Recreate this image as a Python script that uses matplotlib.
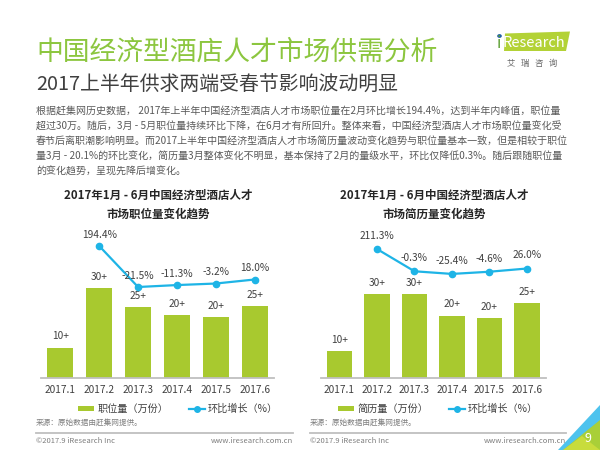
import matplotlib
matplotlib.use("Agg")
import matplotlib.pyplot as plt
from matplotlib.patches import Polygon, Patch
from matplotlib.lines import Line2D

plt.rcParams['font.family'] = ['Noto Sans CJK SC', 'DejaVu Sans']

# ---------------- data ----------------
months = ['2017.1', '2017.2', '2017.3', '2017.4', '2017.5', '2017.6']

job_values = [10.5, 31.0, 24.3, 21.6, 20.9, 24.7]          # 职位量（万份）, estimated
job_labels = ['10+', '30+', '25+', '20+', '20+', '25+']
job_growth = [None, 194.4, -21.5, -11.3, -3.2, 18.0]        # 环比增长（%）

cv_values = [10.3, 32.0, 31.9, 23.8, 22.7, 28.6]            # 简历量（万份）, estimated
cv_labels = ['10+', '30+', '30+', '20+', '20+', '25+']
cv_growth = [None, 211.3, -0.3, -25.4, -4.6, 26.0]

title_main = '中国经济型酒店人才市场供需分析'
title_sub = '2017上半年供求两端受春节影响波动明显'
body_lines = [
    '根据赶集网历史数据， 2017年上半年中国经济型酒店人才市场职位量在2月环比增长194.4%，达到半年内峰值，职位量',
    '超过30万。随后，3月 - 5月职位量持续环比下降，在6月才有所回升。整体来看，中国经济型酒店人才市场职位量变化受',
    '春节后离职潮影响明显。而2017上半年中国经济型酒店人才市场简历量波动变化趋势与职位量基本一致，但是相较于职位',
    '量3月 - 20.1%的环比变化，简历量3月整体变化不明显，基本保持了2月的量级水平，环比仅降低0.3%。随后跟随职位量',
    '的变化趋势，呈现先降后增变化。',
]
chart_titles = [('2017年1月 - 6月中国经济型酒店人才', '市场职位量变化趋势'),
                ('2017年1月 - 6月中国经济型酒店人才', '市场简历量变化趋势')]
bar_legends = ['职位量（万份）', '简历量（万份）']
line_legend = '环比增长（%）'
source_text = '来源：原始数据由赶集网提供。'

BAR = '#A8C92F'
LINE = '#1EB4E6'
GREEN = '#8CC63F'
DARK = '#404040'
GRAY = '#595959'

W, H = 600, 450
fig = plt.figure(figsize=(6, 4.5), dpi=100)
fig.patch.set_facecolor('white')


def fx(x):
    return x / W


def fy(y):
    return 1 - y / H


# ---------------- header ----------------
fig.text(fx(36), fy(52), title_main, color=GREEN, fontsize=19.3, va='center', ha='left')
fig.text(fx(36), fy(85), title_sub, color=DARK, fontsize=14.3, va='center', ha='left')
for i, line in enumerate(body_lines):
    fig.text(fx(36), fy(111.5 + 15 * i), line, color=GRAY, fontsize=7.2, va='center', ha='left')

# logo
logo = Polygon([(fx(505), fy(33.5)), (fx(570), fy(31.5)), (fx(566), fy(51)), (fx(504), fy(51))],
               closed=True, facecolor='#B3D236', edgecolor='none', transform=fig.transFigure)
fig.patches.append(logo)
fig.text(fx(499), fy(43), 'i', color='#5A9E2F', fontsize=11, va='center', ha='center')
fig.patches.append(plt.Circle((fx(499.5), fy(36)), 1.6 / W, color='#1F5FA8',
                              transform=fig.transFigure))
fig.text(fx(503), fy(43), 'Research', color='white', fontsize=10.5, va='center', ha='left')
fig.text(fx(532), fy(63), '艾   瑞   咨   询', color='#666666', fontsize=6, va='center', ha='center')


# ---------------- charts ----------------
def draw_chart(x0, x1, values, labels, growth, bar_max, line_lo, line_hi,
               titles, bar_leg, leg_cx, lab_off):
    ax = fig.add_axes([fx(x0), fy(378), fx(x1) - fx(x0), 148 / H])
    xs = list(range(len(months)))
    ax.bar(xs, values, width=0.67, color=BAR, zorder=2)
    ax.set_xlim(-0.5, len(months) - 0.5)
    ax.set_ylim(0, bar_max)
    for s in ['top', 'left', 'right']:
        ax.spines[s].set_visible(False)
    ax.spines['bottom'].set_color('#BFBFBF')
    ax.spines['bottom'].set_linewidth(1.3)
    ax.set_yticks([])
    ax.set_xticks(xs)
    ax.set_xticklabels(months, fontsize=7.3, color=DARK)
    ax.tick_params(axis='x', length=0, pad=5)
    for x, v, t in zip(xs, values, labels):
        ax.annotate(t, (x, v), xytext=(0, 8), textcoords='offset points',
                    ha='center', va='center', fontsize=7.3, color=DARK)

    ax2 = ax.twinx()
    ax2.set_ylim(line_lo, line_hi)
    ax2.set_axis_off()
    gx = [x for x, g in zip(xs, growth) if g is not None]
    gy = [g for g in growth if g is not None]
    ax2.plot(gx, gy, color=LINE, lw=1.6, marker='o', markersize=4.5, zorder=3)
    for x, g in zip(gx, gy):
        ax2.annotate(f'{g:.1f}%', (x, g), xytext=(0, lab_off), textcoords='offset points',
                     ha='center', va='center', fontsize=7.3, color=DARK)

    cx = (x0 + x1) / 2
    fig.text(fx(cx + 1), fy(195), titles[0], fontsize=8.3, fontweight='bold',
             color='#262626', ha='center', va='center')
    fig.text(fx(cx + 1), fy(214.5), titles[1], fontsize=8.3, fontweight='bold',
             color='#262626', ha='center', va='center')

    handles = [Patch(facecolor=BAR, edgecolor='none'),
               Line2D([], [], color=LINE, lw=1.6, marker='o', markersize=4)]
    leg = ax.legend(handles, [bar_leg, line_legend], loc='center', ncol=2,
                    bbox_to_anchor=(fx(leg_cx), fy(409)), bbox_transform=fig.transFigure,
                    frameon=False, fontsize=7.3, handlelength=1.6, handleheight=0.5,
                    handletextpad=0.3, columnspacing=2.0)
    for t in leg.get_texts():
        t.set_color(DARK)
    return ax


draw_chart(41, 274, job_values, job_labels, job_growth, 51.0, -500.7, 278.7,
           chart_titles[0], bar_legends[0], 178, 8.0)
draw_chart(320.7, 545.7, cv_values, cv_labels, cv_growth, 56.4, -1014, 391.8,
           chart_titles[1], bar_legends[1], 438, 9.5)

# ---------------- footers ----------------
for (lx, rx) in [(36, 293), (310, 566)]:
    fig.text(fx(lx), fy(423), source_text, fontsize=5.5, color='#7F7F7F', ha='left', va='center')
    fig.add_artist(Line2D([fx(lx), fx(rx)], [fy(433), fy(433)], color='#BFBFBF', lw=1.3,
                          transform=fig.transFigure))
    fig.text(fx(lx), fy(441), '©2017.9 iResearch Inc', fontsize=5.5, color='#7F7F7F',
             ha='left', va='center')
    fig.text(fx(rx), fy(441), 'www.iresearch.com.cn', fontsize=5.5, color='#7F7F7F',
             ha='right', va='center')

# corner decoration
blue = Polygon([(fx(600), fy(405)), (fx(600), fy(450)), (fx(558), fy(450))], closed=True,
               facecolor='#4EC3EE', edgecolor='none', transform=fig.transFigure)
green = Polygon([(fx(600), fy(420)), (fx(600), fy(450)), (fx(563), fy(450))], closed=True,
                facecolor='#A9CF38', edgecolor='none', transform=fig.transFigure)
lime = Polygon([(fx(582), fy(436)), (fx(600), fy(450)), (fx(563), fy(450))], closed=True,
               facecolor='#C8DC3C', edgecolor='none', transform=fig.transFigure)
fig.patches.extend([blue, green, lime])
fig.text(fx(588), fy(439), '9', fontsize=9, color='white', ha='center', va='center')

fig.savefig('out.png', dpi=100)
